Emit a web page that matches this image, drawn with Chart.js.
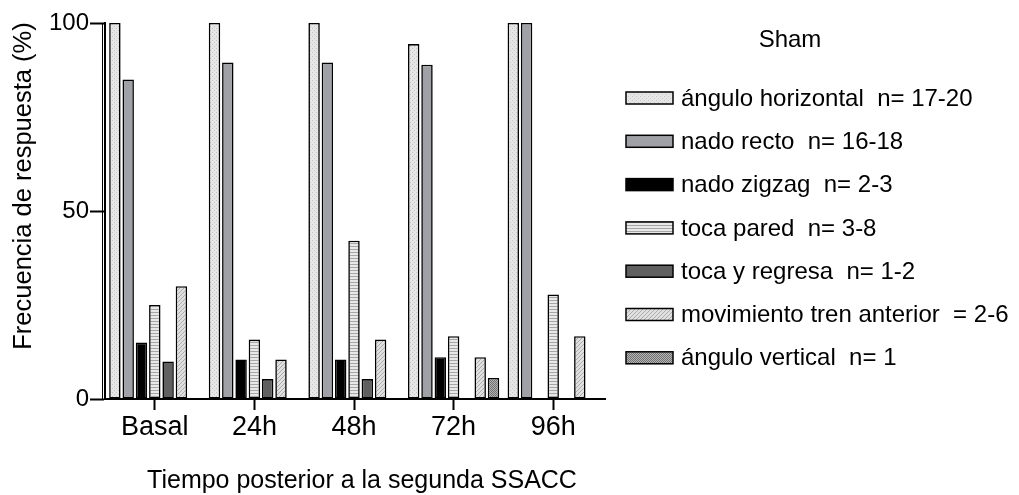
<!DOCTYPE html>
<html>
<head>
<meta charset="utf-8">
<script src="https://cdn.jsdelivr.net/npm/chart.js@4/dist/chart.umd.min.js"></script>
<style>
	html, body { margin: 0; padding: 0; background: #ffffff; }
</style>
</head>
<body>
<canvas id="chart" width="1019" height="495"></canvas>
<script>
const timePoints = ["Basal", "24h", "48h", "72h", "96h"];

const anguloHorizontal = [100, 100, 100, 94.4, 100];
const nadoRecto = [85, 89.5, 89.5, 88.9, 100];
const nadoZigzag = [15, 10.5, 10.5, 11.1, 0];
const tocaPared = [25, 15.8, 42.1, 16.7, 27.8];
const tocaRegresa = [10, 5.3, 5.3, 0, 0];
const movimientoTren = [30, 10.5, 15.8, 11.1, 16.7];
const anguloVertical = [0, 0, 0, 5.6, 0];

const seriesLabels = [
	"ángulo horizontal  n= 17-20",
	"nado recto  n= 16-18",
	"nado zigzag  n= 2-3",
	"toca pared  n= 3-8",
	"toca y regresa  n= 1-2",
	"movimiento tren anterior  = 2-6",
	"ángulo vertical  n= 1"
];
const yTicks = [0, 50, 100];

const FONT = '"Liberation Sans", Arial, sans-serif';
const canvas = document.getElementById("chart");
const ctx = canvas.getContext("2d");

// small tiles for the GraphPad-like fills
function makePattern(w, h, bg, fg, pixels) {
	const tile = document.createElement("canvas");
	tile.width = w;
	tile.height = h;
	const g = tile.getContext("2d");
	g.fillStyle = bg;
	g.fillRect(0, 0, w, h);
	g.fillStyle = fg;
	pixels.forEach(p => g.fillRect(p[0], p[1], p[2] || 1, p[3] || 1));
	return ctx.createPattern(tile, "repeat");
}

const dotsLight = makePattern(4, 4, "#e6e6e6", "#c4c4c4", [[0, 0], [2, 2]]);
const stripes = makePattern(4, 3, "#e8e8e8", "#a6a6a6", [[0, 0, 4, 1]]);
const hatch = makePattern(4, 4, "#e0e0e0", "#ababab", [[0, 3], [1, 2], [2, 1], [3, 0]]);
const dotsDark = makePattern(2, 2, "#b4b4b4", "#707070", [[0, 0], [1, 1]]);

const fills = [dotsLight, "#a0a0a7", "#000000", stripes, "#606060", hatch, dotsDark];
const seriesValues = [anguloHorizontal, nadoRecto, nadoZigzag, tocaPared, tocaRegresa, movimientoTren, anguloVertical];

const datasets = seriesValues.map((values, i) => ({
	label: seriesLabels[i],
	data: values,
	backgroundColor: fills[i],
	borderColor: "#000000",
	borderWidth: 1.6,
	borderSkipped: false,
	barPercentage: 0.86,
	categoryPercentage: 0.935
}));

const sideText = {
	id: "sideText",
	afterDraw(chart) {
		const c = chart.ctx;
		const area = chart.chartArea;
		c.save();
		c.fillStyle = "#000";
		c.textBaseline = "middle";

		// axis titles
		c.textAlign = "center";
		c.font = `25px ${FONT}`;
		c.fillText("Tiempo posterior a la segunda SSACC", 362, 481);
		c.save();
		c.font = `25.5px ${FONT}`;
		c.translate(24, 186);
		c.rotate(-Math.PI / 2);
		c.fillText("Frecuencia de respuesta (%)", 0, 0);
		c.restore();

		// left line of the doubled y axis, x axis runs a little past the last group
		c.strokeStyle = "#000";
		c.lineWidth = 1;
		c.beginPath();
		c.moveTo(102.5, area.top);
		c.lineTo(102.5, area.bottom);
		c.stroke();
		c.lineWidth = 2;
		c.beginPath();
		c.moveTo(area.right, area.bottom);
		c.lineTo(area.right + 3, area.bottom);
		c.stroke();

		// legend
		c.font = `24px ${FONT}`;
		c.fillText("Sham", 790, 40);
		c.textAlign = "left";
		chart.data.datasets.forEach((ds, i) => {
			const y = 98 + i * 43.3;
			c.fillStyle = ds.backgroundColor;
			c.fillRect(626, y - 6, 47, 12);
			c.lineWidth = 1.5;
			c.strokeStyle = "#000";
			c.strokeRect(626, y - 6, 47, 12);
			c.fillStyle = "#000";
			c.fillText(ds.label, 681, y + 1);
		});
		c.restore();
	}
};

new Chart(canvas, {
	type: "bar",
	data: { labels: timePoints, datasets: datasets },
	options: {
		responsive: false,
		animation: false,
		devicePixelRatio: 1,
		layout: { padding: { top: 23, right: 416, left: 0, bottom: 0 } },
		plugins: {
			legend: { display: false },
			tooltip: { enabled: false }
		},
		scales: {
			x: {
				grid: {
					offset: false,
					drawOnChartArea: false,
					drawTicks: true,
					tickLength: 11,
					tickWidth: 2,
					tickColor: "#000"
				},
				border: { color: "#000", width: 2 },
				ticks: { color: "#000", padding: 1, font: { family: FONT, size: 27 } },
				afterFit: scale => { scale.height = 96; }
			},
			y: {
				min: 0,
				max: 100,
				afterBuildTicks: scale => { scale.ticks = yTicks.map(v => ({ value: v })); },
				grid: {
					drawOnChartArea: false,
					drawTicks: true,
					tickLength: 15,
					tickWidth: 2,
					tickColor: "#000"
				},
				border: { color: "#000", width: 2 },
				ticks: { color: "#000", padding: 1, font: { family: FONT, size: 24 } },
				afterFit: scale => { scale.width = 105; }
			}
		}
	},
	plugins: [sideText]
});
</script>
</body>
</html>
